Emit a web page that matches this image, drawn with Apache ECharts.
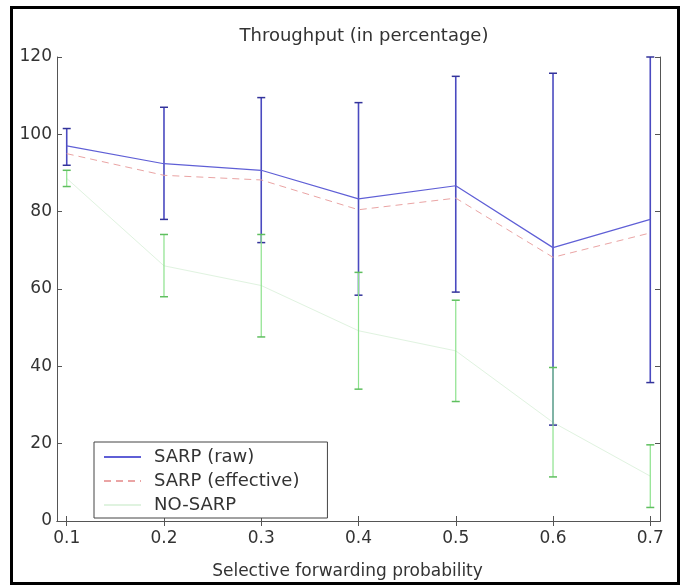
<!DOCTYPE html>
<html>
<head>
<meta charset="utf-8">
<script src="https://cdn.jsdelivr.net/npm/echarts@6/dist/echarts.min.js"></script>
<style>
html,body{margin:0;padding:0;background:#fff;}
#chart{width:680px;height:585px;}
</style>
</head>
<body>
<div id="chart"></div>
<script>
// ---- data ----
const xValues = [0.1, 0.2, 0.3, 0.4, 0.5, 0.6, 0.7];
const rawMean = [97.0, 92.4, 90.7, 83.3, 86.7, 70.7, 78.0];
const rawLow  = [92.0, 78.0, 72.0, 58.4, 59.2, 24.8, 35.8];
const rawHigh = [101.5, 107.0, 109.5, 108.2, 115.0, 115.8, 120.0];
const effMean = [95.0, 89.4, 88.2, 80.5, 83.5, 68.2, 74.5];
const noMean  = [88.6, 66.0, 60.9, 49.2, 44.0, 25.5, 11.6];
const noLow   = [86.5, 58.0, 47.6, 34.1, 30.9, 11.4, 3.5];
const noHigh  = [90.7, 74.1, 74.1, 64.3, 57.1, 39.7, 19.7];
const yTicks  = [0, 20, 40, 60, 80, 100, 120];
const titleText = 'Throughput (in percentage)';
const xName = 'Selective forwarding probability';
const names = ['SARP (raw)', 'SARP (effective)', 'NO-SARP'];

const FONT = 'DejaVu Sans';
const pairs = (ys) => xValues.map((x, i) => [x, ys[i]]);
const triples = (lo, hi) => xValues.map((x, i) => [x, lo[i], hi[i]]);

function errRender(color, capColor, lw) {
  return function (params, api) {
    const x = api.value(0), lo = api.value(1), hi = api.value(2);
    const a = api.coord([x, lo]), b = api.coord([x, hi]);
    const w = 4;
    return {
      type: 'group',
      children: [
        {type: 'line', shape: {x1: a[0], y1: a[1], x2: b[0], y2: b[1]}, style: {stroke: color, lineWidth: lw}},
        {type: 'line', shape: {x1: a[0] - w, y1: a[1], x2: a[0] + w, y2: a[1]}, style: {stroke: capColor, lineWidth: 1.5}},
        {type: 'line', shape: {x1: b[0] - w, y1: b[1], x2: b[0] + w, y2: b[1]}, style: {stroke: capColor, lineWidth: 1.5}}
      ]
    };
  };
}

const axisLineStyle = {color: '#555', width: 1};
const chart = echarts.init(document.getElementById('chart'));
chart.setOption({
  animation: false,
  backgroundColor: '#fff',
  title: {
    text: titleText,
    left: 359, top: 22, textAlign: 'center',
    textStyle: {fontFamily: FONT, fontSize: 18, fontWeight: 'normal', color: '#333'}
  },
  grid: {left: 57, right: 20, top: 57, bottom: 58, containLabel: false},
  legend: {
    data: names,
    orient: 'vertical',
    left: 94, top: 442,
    itemWidth: 37, itemHeight: 10, itemGap: 6,
    padding: [6, 28, 4, 9],
    borderColor: '#444', borderWidth: 1,
    backgroundColor: '#fff',
    itemStyle: {opacity: 0},
    textStyle: {fontFamily: FONT, fontSize: 18, color: '#333', padding: [0, 0, 0, 8]}
  },
  xAxis: [{
    type: 'value', position: 'bottom', min: 0.09, max: 0.71,
    axisLine: {show: true, lineStyle: axisLineStyle},
    axisTick: {show: true, inside: true, length: 5, customValues: xValues, lineStyle: axisLineStyle},
    axisLabel: {show: true, customValues: xValues, margin: 9, formatter: v => v.toFixed(1),
      fontFamily: FONT, fontSize: 17, color: '#333'},
    splitLine: {show: false},
    name: xName, nameLocation: 'middle', nameGap: 42,
    nameTextStyle: {fontFamily: FONT, fontSize: 17, color: '#333', padding: [0, 22, 0, 0]}
  }, {
    type: 'value', position: 'top', min: 0.09, max: 0.71,
    axisLine: {show: true, lineStyle: axisLineStyle},
    axisTick: {show: true, inside: true, length: 5, customValues: xValues, lineStyle: axisLineStyle},
    axisLabel: {show: false},
    splitLine: {show: false}
  }],
  yAxis: [{
    type: 'value', position: 'left', min: 0, max: 120, interval: 20,
    axisLine: {show: true, lineStyle: axisLineStyle},
    axisTick: {show: true, inside: true, length: 5, lineStyle: axisLineStyle},
    axisLabel: {show: true, margin: 5, fontFamily: FONT, fontSize: 17, color: '#333'},
    splitLine: {show: false}
  }, {
    type: 'value', position: 'right', min: 0, max: 120, interval: 20,
    axisLine: {show: true, lineStyle: axisLineStyle},
    axisTick: {show: true, inside: true, length: 5, lineStyle: axisLineStyle},
    axisLabel: {show: false},
    splitLine: {show: false}
  }],
  series: [
    {
      name: 'raw-err', type: 'custom', xAxisIndex: 0, yAxisIndex: 0,
      renderItem: errRender('#4a4ac0', '#33339a', 1.6),
      encode: {x: 0, y: [1, 2]},
      data: triples(rawLow, rawHigh), z: 2
    },
    {
      name: names[0], type: 'line', data: pairs(rawMean), symbol: 'none',
      lineStyle: {color: '#5f5fd6', width: 1.2, type: 'solid'}, itemStyle: {color: '#5f5fd6'}, z: 3
    },
    {
      name: names[1], type: 'line', data: pairs(effMean), symbol: 'none',
      lineStyle: {color: '#eaa4a4', width: 1, type: [7, 5]}, itemStyle: {color: '#eaa4a4'}, z: 3
    },
    {
      name: 'no-err', type: 'custom', xAxisIndex: 0, yAxisIndex: 0,
      renderItem: errRender('#8ce28c', '#5fbf5f', 1.2),
      encode: {x: 0, y: [1, 2]},
      data: triples(noLow, noHigh), z: 4
    },
    {
      name: names[2], type: 'line', data: pairs(noMean), symbol: 'none',
      lineStyle: {color: '#e0f3e0', width: 1, type: 'solid'}, itemStyle: {color: '#e0f3e0'}, z: 1
    }
  ],
  graphic: [{
    type: 'rect', silent: true, z: 100,
    shape: {x: 11.5, y: 7.5, width: 667, height: 576},
    style: {fill: 'none', stroke: '#000', lineWidth: 3}
  }]
});
</script>
</body>
</html>
